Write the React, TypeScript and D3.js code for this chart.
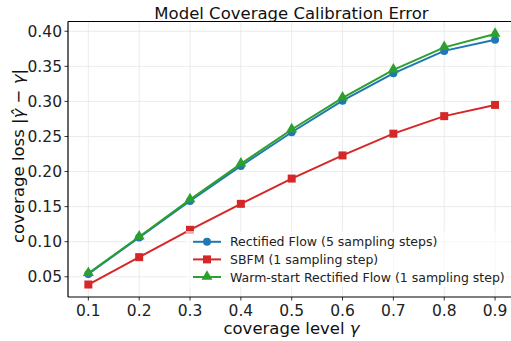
import React from "react";
import * as d3 from "d3";

const levels = [0.1, 0.2, 0.3, 0.4, 0.5, 0.6, 0.7, 0.8, 0.9];
const rectifiedFlow = [0.054, 0.106, 0.158, 0.208, 0.256, 0.301, 0.340, 0.372, 0.388];
const sbfm = [0.039, 0.078, 0.117, 0.154, 0.190, 0.223, 0.254, 0.279, 0.295];
const warmStart = [0.055, 0.107, 0.160, 0.211, 0.260, 0.305, 0.345, 0.377, 0.396];
const xTicks = [0.1, 0.2, 0.3, 0.4, 0.5, 0.6, 0.7, 0.8, 0.9];
const yTicks = [0.05, 0.1, 0.15, 0.2, 0.25, 0.3, 0.35, 0.4];
const seriesNames = [
  "Rectified Flow (5 sampling steps)",
  "SBFM (1 sampling step)",
  "Warm-start Rectified Flow (1 sampling step)",
];

const W = 511, H = 341;
const FONT = "DejaVu Sans, sans-serif";

export default function App() {
  const x = d3.scaleLinear().domain([0.06, 0.94]).range([68, 515.4]);
  const y = d3.scaleLinear().domain([0.0212, 0.4139]).range([297, 21.5]);
  const series = [
    { name: seriesNames[0], values: rectifiedFlow, color: "#1f77b4", marker: "circle" },
    { name: seriesNames[1], values: sbfm, color: "#d62728", marker: "square" },
    { name: seriesNames[2], values: warmStart, color: "#2ca02c", marker: "triangle" },
  ];
  const line = d3.line<number>().x((_, i) => x(levels[i])).y((d) => y(d));
  const marker = (kind: string, cx: number, cy: number, color: string, key: any) => {
    if (kind === "circle") return <circle key={key} cx={cx} cy={cy} r={4} fill={color} />;
    if (kind === "square") return <rect key={key} x={cx - 4} y={cy - 4} width={8} height={8} fill={color} />;
    const p = d3.symbol(d3.symbolTriangle, 52)();
    return <path key={key} d={p!} transform={`translate(${cx},${cy - 0.5})`} fill={color} />;
  };
  const left = 68, top = 21.5, bottom = 297, right = 515.4;
  const legX = 193, legY0 = 241.8, legDy = 17.6;
  return (
    <svg width={W} height={H} style={{ position: "absolute", left: 0, top: 0, background: "#fff" }} fontFamily={FONT}>
      <rect width={W} height={H} fill="#fff" />
      {/* grid */}
      {xTicks.map((t) => (
        <line key={"gx" + t} x1={x(t)} x2={x(t)} y1={top} y2={bottom} stroke="#e6e6e6" strokeWidth={0.8} />
      ))}
      {yTicks.map((t) => (
        <line key={"gy" + t} x1={left} x2={right} y1={y(t)} y2={y(t)} stroke="#e6e6e6" strokeWidth={0.8} />
      ))}
      {/* series */}
      {series.map((s) => (
        <g key={s.name}>
          <path d={line(s.values)!} fill="none" stroke={s.color} strokeWidth={2} />
          {s.values.map((v, i) => marker(s.marker, x(levels[i]), y(v), s.color, i))}
        </g>
      ))}
      {/* legend */}
      <rect x={186} y={231} width={324} height={56} fill="#fff" opacity={0.6} />
      {series.map((s, i) => {
        const cy = legY0 + i * legDy;
        return (
          <g key={"leg" + i}>
            <line x1={legX} x2={legX + 28} y1={cy} y2={cy} stroke={s.color} strokeWidth={2} />
            {marker(s.marker, legX + 14, cy, s.color, "m" + i)}
            <text x={230} y={cy + 4.5} fontSize={12.5} fill="#222">{s.name}</text>
          </g>
        );
      })}
      {/* spines */}
      <line x1={left} x2={left} y1={top} y2={bottom} stroke="#000" strokeWidth={1.2} />
      <line x1={left} x2={right} y1={bottom} y2={bottom} stroke="#000" strokeWidth={1.2} />
      <line x1={left} x2={right} y1={top} y2={top} stroke="#000" strokeWidth={1.2} />
      {/* ticks */}
      {xTicks.map((t) => (
        <g key={"xt" + t}>
          <line x1={x(t)} x2={x(t)} y1={bottom} y2={bottom + 3.5} stroke="#000" strokeWidth={0.8} />
          <text x={x(t)} y={316} fontSize={15.5} textAnchor="middle" fill="#222">{t.toFixed(1)}</text>
        </g>
      ))}
      {yTicks.map((t) => (
        <g key={"yt" + t}>
          <line x1={left - 3.5} x2={left} y1={y(t)} y2={y(t)} stroke="#000" strokeWidth={0.8} />
          <text x={62} y={y(t) + 5.5} fontSize={15.5} textAnchor="end" fill="#222">{t.toFixed(2)}</text>
        </g>
      ))}
      {/* title */}
      <text x={291.5} y={18.5} fontSize={16.5} textAnchor="middle" fill="#111">Model Coverage Calibration Error</text>
      {/* x label */}
      <text x={291.5} y={333.5} fontSize={16.5} textAnchor="middle" fill="#111">
        coverage level <tspan fontStyle="italic">γ</tspan>
      </text>
      {/* y label */}
      <text transform={`translate(24,156) rotate(-90)`} fontSize={16.5} textAnchor="middle" fill="#111">
        coverage loss |<tspan fontStyle="italic">γ̂</tspan> − <tspan fontStyle="italic">γ</tspan>|
      </text>
    </svg>
  );
}
